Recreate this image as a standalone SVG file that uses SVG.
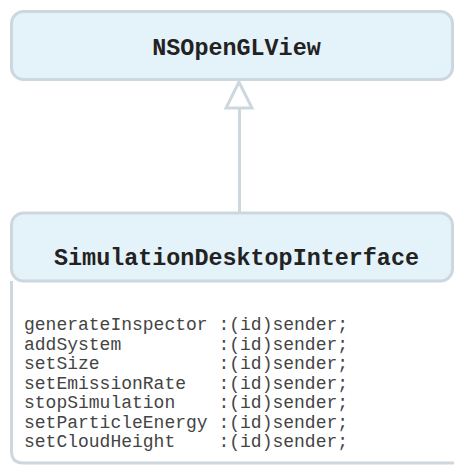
<svg xmlns="http://www.w3.org/2000/svg" width="454" height="465" viewBox="0 0 454 465">
<style>
.box{fill:#e4f2fa;stroke:#cdd8de;stroke-width:3}
.frame{fill:none;stroke:#cdd8de;stroke-width:3}
.title{font-family:"Liberation Mono","Courier New",monospace;font-weight:bold;font-size:23.4px;fill:#222;text-anchor:middle}
.member{font-family:"Liberation Mono","Courier New",monospace;font-size:18px;fill:#444}
.conn{fill:none;stroke:#cdd8de;stroke-width:3}
</style>
<rect width="454" height="465" fill="#fff"/>
<g id="connectors">
<line class="conn" x1="239.5" y1="108" x2="239.5" y2="213"/>
<polygon class="conn" fill="#fff" style="fill:#fff" points="239,82 226,108 252,108"/>
</g>
<g id="NSOpenGLView">
<rect class="box" x="11.5" y="11.5" width="441" height="68" rx="12"/>
<text class="title" x="236.5" y="55">NSOpenGLView</text>
</g>
<g id="SimulationDesktopInterface">
<path class="frame" d="M11.5,281 V451 Q11.5,463 23.5,463 H460"/>
<rect class="box" x="11.5" y="213" width="441" height="68" rx="12"/>
<text class="title" x="236.5" y="265">SimulationDesktopInterface</text>
<text class="member" xml:space="preserve"><tspan x="24" y="330">generateInspector :(id)sender;</tspan><tspan x="24" y="349.5">addSystem         :(id)sender;</tspan><tspan x="24" y="369">setSize           :(id)sender;</tspan><tspan x="24" y="388.5">setEmissionRate   :(id)sender;</tspan><tspan x="24" y="408">stopSimulation    :(id)sender;</tspan><tspan x="24" y="427.5">setParticleEnergy :(id)sender;</tspan><tspan x="24" y="447">setCloudHeight    :(id)sender;</tspan></text>
</g>
</svg>
